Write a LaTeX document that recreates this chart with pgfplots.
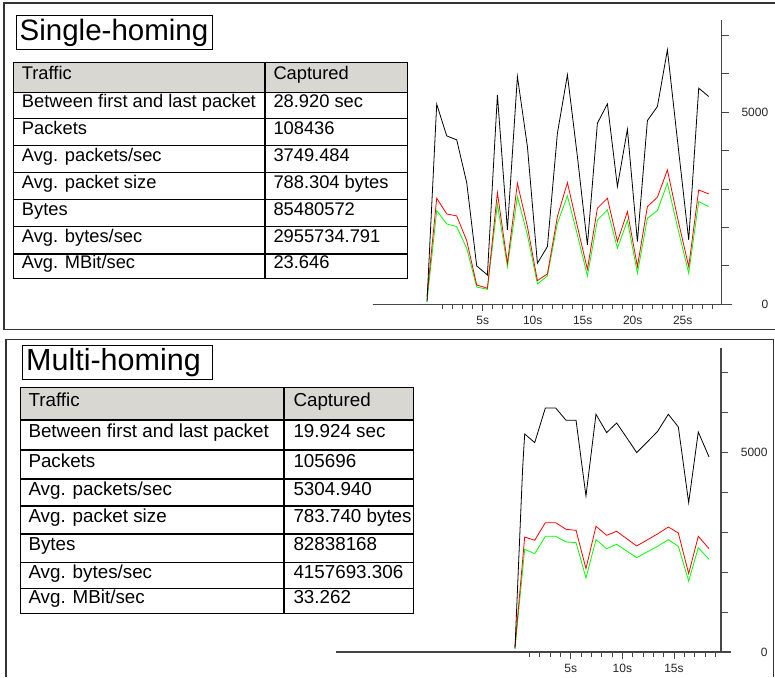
\documentclass[border=0pt]{standalone}
\usepackage{fontspec}
\setmainfont{Liberation Sans}
\usepackage{pgfplots}
\pgfplotsset{compat=1.18}
\definecolor{hdr}{RGB}{216,215,210}
\definecolor{axl}{RGB}{70,70,70}
\pgfplotsset{
  wsstyle/.style={
    scale only axis, anchor=south west,
    axis x line=bottom, axis y line=right,
    axis line style={-, axl, line width=1.1pt},
    tick align=outside, tick style={axl, line width=0.9pt},
    major tick length=7pt, minor tick length=5pt,
    ymin=0,
    ytick={0,1000,...,7000},
    yticklabels={\makebox[36pt][r]{0},,,,,\makebox[36pt][r]{5000},,},
    xtick={5,10,15,20,25},
    xticklabels={\mbox{5s},\mbox{10s},\mbox{15s},\mbox{20s},\mbox{25s}},
    ticklabel style={font=\fontsize{12}{13}\selectfont, text=black!85},
    xticklabel style={yshift=-1.5pt},
    clip=false,
  },
  bl/.style={black, line width=0.8pt},
  rd/.style={red, line width=0.8pt},
  gr/.style={green, line width=0.8pt},
}
\begin{document}
\begin{tikzpicture}
\useasboundingbox (0,0) rectangle (775pt,677pt);
\begin{scope}[x=1pt,y=-1pt,shift={(0pt,677pt)}]
% panel frames
\draw[line width=1.2pt, black!80] (775,3) -- (4,3) -- (4,329.3) -- (775,329.3);
\draw[line width=1.2pt, black!80] (6,677) -- (6,339.3) -- (773.3,339.3) -- (773.3,677);
% ---------- top table
\draw[line width=1pt] (16.7,15.7) rectangle (212.3,50);
\node[anchor=west, inner sep=0] at (19.5,33) {\fontsize{29.5}{30}\selectfont Single-homing};
\fill[hdr] (13.3,62.3) rectangle (407.3,92.3);
\draw[line width=1.1pt] (13.3,62.3) rectangle (407.3,278.3);
\draw[line width=1.1pt] (265,62.3) -- (265,278.3);
\foreach \yy in {92.3,118.3,145.7,172.3,199.3,226.7,254} \draw[line width=1.1pt] (13.3,\yy) -- (407.3,\yy);
\begin{scope}[every node/.style={anchor=west, inner sep=0, text height=0.72em, text depth=0.2em, font=\fontsize{18.3}{19}\selectfont}]
\node at (21.7,77.3) {Traffic};
\node at (273.3,77.3) {Captured};
\node at (21.7,105.3) {Between first and last packet}; \node at (273.3,105.3) {28.920 sec};
\node at (21.7,132) {Packets}; \node at (273.3,132) {108436};
\node at (21.7,159) {Avg. packets/sec}; \node at (273.3,159) {3749.484};
\node at (21.7,185.8) {Avg. packet size}; \node at (273.3,185.8) {788.304 bytes};
\node at (21.7,213) {Bytes}; \node at (273.3,213) {85480572};
\node at (21.7,240.3) {Avg. bytes/sec}; \node at (273.3,240.3) {2955734.791};
\node at (21.7,266.2) {Avg. MBit/sec}; \node at (273.3,266.2) {23.646};
\end{scope}
% ---------- bottom table
\draw[line width=1pt] (22.7,346) rectangle (212.3,380);
\node[anchor=west, inner sep=0] at (26,363) {\fontsize{30.5}{31}\selectfont Multi-homing};
\fill[hdr] (20.7,387.7) rectangle (413.3,420);
\draw[line width=1.1pt] (20.7,387.7) rectangle (413.3,613.3);
\draw[line width=1.1pt] (284,387.7) -- (284,613.3);
\foreach \yy in {420,450,479,506,534,562.7,588.3} \draw[line width=1.1pt] (20.7,\yy) -- (413.3,\yy);
\begin{scope}[every node/.style={anchor=west, inner sep=0, text height=0.72em, text depth=0.2em, font=\fontsize{18.8}{19.5}\selectfont}]
\node at (28.3,403.8) {Traffic};
\node at (293.3,403.8) {Captured};
\node at (28.3,435) {Between first and last packet}; \node at (293.3,435) {19.924 sec};
\node at (28.3,464.5) {Packets}; \node at (293.3,464.5) {105696};
\node at (28.3,492.5) {Avg. packets/sec}; \node at (293.3,492.5) {5304.940};
\node at (28.3,520) {Avg. packet size}; \node at (293.3,520) {783.740 bytes};
\node at (28.3,548.3) {Bytes}; \node at (293.3,548.3) {82838168};
\node at (28.3,575.5) {Avg. bytes/sec}; \node at (293.3,575.5) {4157693.306};
\node at (28.3,600.8) {Avg. MBit/sec}; \node at (293.3,600.8) {33.262};
\end{scope}
\end{scope}
% ---------- top chart
\begin{axis}[wsstyle, at={(372.7pt,372.7pt)}, width=349pt, height=284.3pt,
  xmin=-6, xmax=28.9, ymax=7400, minor xtick={1,...,28}]
\addplot[gr] coordinates {(-0.57,70) (0.4,2439) (1.4,2092) (2.4,2023) (3.4,1458) (4.4,450) (5.47,391) (6.47,2613) (7.47,981) (8.47,2804) (9.47,1806) (10.47,530) (11.47,738) (12.47,2109) (13.47,2821) (14.47,1806) (15.47,738) (16.47,2196) (17.47,2457) (18.47,1458) (19.47,2179) (20.47,807) (21.47,2240) (22.47,2439) (23.47,3151) (24.47,2023) (25.6,807) (26.6,2674) (27.6,2543)};
\addplot[rd] coordinates {(-0.57,200) (0.4,2760) (1.4,2352) (2.4,2300) (3.4,1658) (4.4,503) (5.47,417) (6.47,2908) (7.47,1068) (8.47,3151) (9.47,2023) (10.47,616) (11.47,790) (12.47,2283) (13.47,3168) (14.47,2023) (15.47,911) (16.47,2500) (17.47,2760) (18.47,1632) (19.47,2413) (20.47,981) (21.47,2543) (22.47,2786) (23.47,3498) (24.47,2266) (25.6,981) (26.6,2977) (27.6,2873)};
\addplot[bl] coordinates {(-0.57,70) (0.4,5208) (1.4,4384) (2.4,4280) (3.4,3168) (4.4,998) (5.47,764) (6.47,5451) (7.47,1936) (8.47,5929) (9.47,4106) (10.47,1068) (11.47,1502) (12.47,4453) (13.47,5972) (14.47,3845) (15.47,1545) (16.47,4714) (17.47,5217) (18.47,3064) (19.47,4557) (20.47,1632) (21.47,4783) (22.47,5148) (23.47,6623) (24.47,4280) (25.6,1675) (26.6,5625) (27.6,5408)};
\draw[axl, line width=1.1pt] (axis cs:28.9,0) -- (axis cs:29.9,0);
\end{axis}
% ---------- bottom chart
\begin{axis}[wsstyle, at={(336pt,25pt)}, width=385pt, height=303.7pt,
  xmin=-17.71, xmax=19.55, ymax=7610, minor xtick={1,...,19}]
\addplot[gr] coordinates {(-0.39,84) (0.55,2573) (1.52,2464) (2.55,2899) (3.55,2899) (4.55,2757) (5.52,2740) (6.48,1855) (7.45,2815) (8.48,2590) (9.45,2699) (10.42,2530) (11.39,2364) (12.35,2500) (13.42,2650) (14.45,2815) (15.42,2648) (16.42,1779) (17.35,2615) (18.39,2322)};
\addplot[rd] coordinates {(-0.39,125) (0.55,2882) (1.52,2799) (2.55,3241) (3.55,3241) (4.55,3074) (5.52,3049) (6.48,2089) (7.45,3150) (8.48,2924) (9.45,3024) (10.42,2840) (11.39,2657) (12.35,2800) (13.42,2960) (14.45,3133) (15.42,2982) (16.42,1963) (17.35,2899) (18.39,2590)};
\addplot[bl] coordinates {(-0.39,84) (0.35,4595) (0.55,5464) (1.52,5246) (2.55,6115) (3.55,6115) (4.55,5806) (5.52,5806) (6.48,3910) (7.45,5957) (8.48,5497) (9.45,5739) (10.42,5372) (11.39,4996) (12.35,5246) (13.42,5530) (14.45,5957) (15.42,5639) (16.42,3743) (17.35,5514) (18.39,4887)};
\draw[axl, line width=1.1pt] (axis cs:19.55,0) -- (axis cs:20.52,0);
\end{axis}
\end{tikzpicture}
\end{document}
